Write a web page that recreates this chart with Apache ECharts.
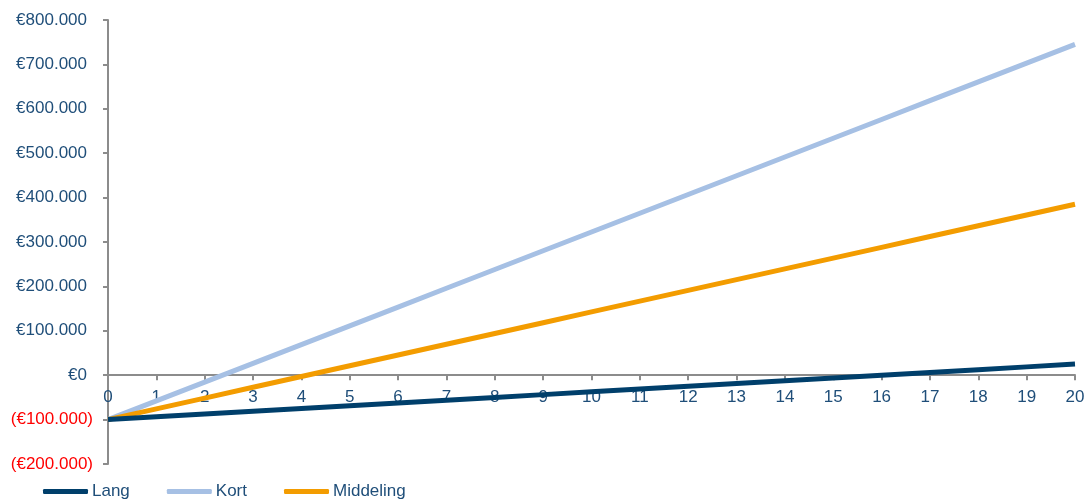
<!DOCTYPE html>
<html>
<head>
<meta charset="utf-8">
<script src="https://cdn.jsdelivr.net/npm/echarts@6/dist/echarts.min.js"></script>
<style>
  html, body { margin: 0; padding: 0; background: #fff; }
  #chart { width: 1088px; height: 499px; }
</style>
</head>
<body>
<div id="chart"></div>
<script>
// Years on the horizontal axis
const years = ['0','1','2','3','4','5','6','7','8','9','10','11','12','13','14','15','16','17','18','19','20'];

// Cumulative result per scenario (euro)
const lang = [-100000, -93750, -87500, -81250, -75000, -68750, -62500, -56250, -50000, -43750, -37500,
              -31250, -25000, -18750, -12500, -6250, 0, 6250, 12500, 18750, 25000];
const kort = [-100000, -57750, -15500, 26750, 69000, 111250, 153500, 195750, 238000, 280250, 322500,
              364750, 407000, 449250, 491500, 533750, 576000, 618250, 660500, 702750, 745000];
const middeling = [-100000, -75750, -51500, -27250, -3000, 21250, 45500, 69750, 94000, 118250, 142500,
                   166750, 191000, 215250, 239500, 263750, 288000, 312250, 336500, 360750, 385000];

const seriesNames = ['Lang', 'Kort', 'Middeling'];
const seriesColors = ['#003F6B', '#A6C0E4', '#F39C00'];

// Accounting style: negatives in parentheses, positives padded for the ")"
function euro(v) {
  if (v === 0) return '{p|€0}';
  const s = Math.abs(v).toString().replace(/\B(?=(\d{3})+(?!\d))/g, '.');
  return v < 0 ? '{n|(€' + s + ')}' : '{p|€' + s + '}';
}

const chart = echarts.init(document.getElementById('chart'));
const font = 'Liberation Sans, Arial, sans-serif';

chart.setOption({
  animation: false,
  color: seriesColors,
  textStyle: { fontFamily: font },
  grid: { left: 108, right: 13, top: 20, bottom: 35, containLabel: false },
  legend: {
    left: 43,
    top: 483,
    padding: 0,
    icon: 'roundRect',
    itemWidth: 45,
    itemHeight: 5,
    itemGap: 37,
    textStyle: { fontFamily: font, fontSize: 17, color: '#1F4E79', padding: [0, 0, 0, -1] },
    data: seriesNames
  },
  xAxis: {
    type: 'category',
    data: years,
    boundaryGap: false,
    axisLine: { onZero: true, lineStyle: { color: '#8C8C8C', width: 2 } },
    axisTick: { show: true, length: 5, inside: false, lineStyle: { color: '#8C8C8C', width: 2 } },
    // labels sit just under the zero line
    axisLabel: { color: '#1F4E79', fontSize: 17, margin: -75, fontFamily: font },
    splitLine: { show: false }
  },
  yAxis: {
    type: 'value',
    min: -200000,
    max: 800000,
    interval: 100000,
    axisLine: { show: true, lineStyle: { color: '#8C8C8C', width: 2 } },
    axisTick: { show: true, length: 5, lineStyle: { color: '#8C8C8C', width: 2 } },
    axisLabel: {
      fontSize: 17,
      margin: 15,
      fontFamily: font,
      formatter: euro,
      rich: {
        p: { fontSize: 17, fontFamily: font, color: '#1F4E79', padding: [0, 6, 0, 0] },
        n: { fontSize: 17, fontFamily: font, color: '#FF0000' }
      }
    },
    splitLine: { show: false }
  },
  series: [
    { name: seriesNames[0], type: 'line', data: lang, symbol: 'none', z: 3, lineStyle: { width: 5 } },
    { name: seriesNames[1], type: 'line', data: kort, symbol: 'none', z: 2, lineStyle: { width: 5 } },
    { name: seriesNames[2], type: 'line', data: middeling, symbol: 'none', z: 2, lineStyle: { width: 5 } }
  ]
});
</script>
</body>
</html>
